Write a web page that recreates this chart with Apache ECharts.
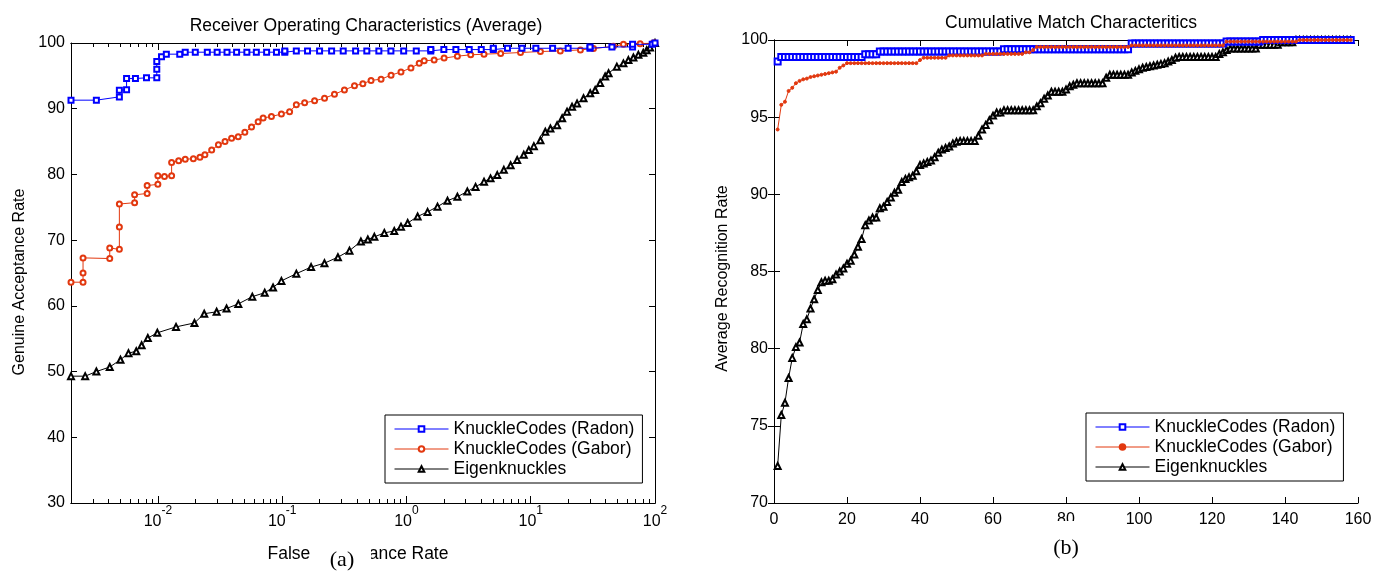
<!DOCTYPE html>
<html>
<head>
<meta charset="utf-8" />
<script src="https://cdn.jsdelivr.net/npm/echarts@6.0.0/dist/echarts.min.js"></script>
<style>
  html, body { margin: 0; padding: 0; background: #fff; }
  #main { width: 1392px; height: 572px; }
</style>
</head>
<body>
<div id="main"></div>
<script>
const FONT = "'Liberation Sans', Arial, sans-serif";
const SERIF = "'Liberation Serif', 'Times New Roman', serif";

const names = ["KnuckleCodes (Radon)", "KnuckleCodes (Gabor)", "Eigenknuckles"];
const colors = ["#0000ff", "#e2380f", "#000000"];

// ROC (a): false acceptance rate (%) -> genuine acceptance rate (%)
const rocRadonFar = [0.002, 0.0032, 0.0049, 0.0049, 0.0056, 0.0056, 0.0066, 0.0081, 0.0098, 0.0098, 0.0098, 0.0107, 0.0117, 0.015,
  0.0166, 0.02, 0.025, 0.03, 0.036, 0.043, 0.052, 0.062, 0.075, 0.09, 0.105, 0.105, 0.13, 0.16, 0.2, 0.25, 0.31, 0.39, 0.48,
  0.6, 0.75, 0.95, 1.2, 1.57, 1.57, 2.0, 2.5, 3.2, 4.0, 5.0, 5.0, 6.5, 8.5, 11, 15, 20, 30, 30, 45, 66, 66, 95, 100];
const rocRadonGar = [91.3, 91.3, 91.8, 92.8, 92.9, 94.6, 94.6, 94.7, 94.7, 96.0, 97.2, 97.9, 98.3, 98.3,
  98.6, 98.6, 98.6, 98.6, 98.6, 98.6, 98.6, 98.6, 98.6, 98.6, 98.6, 98.8, 98.8, 98.8, 98.8, 98.8, 98.8, 98.8, 98.8,
  98.8, 98.8, 98.8, 98.8, 98.8, 99.0, 99.0, 99.0, 99.0, 99.0, 99.0, 99.2, 99.2, 99.2, 99.2, 99.2, 99.2, 99.2, 99.4, 99.4, 99.4, 99.8, 99.8, 100];

const rocGaborFar = [0.002, 0.0025, 0.0025, 0.0025, 0.0041, 0.0041, 0.0049, 0.0049, 0.0049, 0.0065, 0.0065, 0.0082, 0.0082,
  0.01, 0.01, 0.0113, 0.0129, 0.0129, 0.0147, 0.0166, 0.0193, 0.0218, 0.0239, 0.0271, 0.0307, 0.0347, 0.0392, 0.0443,
  0.0501, 0.0567, 0.0641, 0.0703, 0.082, 0.0986, 0.1148, 0.13, 0.1517, 0.1824, 0.2193, 0.2636, 0.317, 0.382, 0.446,
  0.519, 0.625, 0.752, 0.904, 1.087, 1.267, 1.39, 1.671, 2.01, 2.57, 3.29, 4.21, 5.73, 8.28, 11.97, 17.3, 25.1, 32.0,
  46.3, 55.7, 75.9, 96.8, 100];
const rocGaborGar = [63.6, 63.6, 65.0, 67.3, 67.2, 68.8, 68.6, 72.0, 75.5, 75.7, 76.9, 77.1, 78.3,
  78.5, 79.8, 79.7, 79.8, 81.8, 82.1, 82.3, 82.4, 82.6, 83.0, 83.7, 84.5, 85.0, 85.5, 85.75,
  86.4, 87.2, 88.0, 88.6, 88.8, 89.2, 89.55, 90.6, 90.9, 91.2, 91.6, 92.2, 92.85, 93.5, 93.8,
  94.3, 94.5, 95.1, 95.6, 96.2, 96.9, 97.3, 97.4, 97.7, 98.0, 98.2, 98.3, 98.4, 98.55, 98.7, 98.8, 98.95, 99.15,
  99.5, 99.8, 99.9, 100, 100];

const rocEigenFar = [0.002, 0.0026, 0.0032, 0.0041, 0.005, 0.0058, 0.0067, 0.0074, 0.0083, 0.0099, 0.014, 0.0197, 0.0236,
  0.0297, 0.0357, 0.0444, 0.0575, 0.0724, 0.0845, 0.0986, 0.13, 0.171, 0.219, 0.281, 0.348, 0.43, 0.489, 0.552, 0.664,
  0.798, 0.904, 1.023, 1.23, 1.479, 1.778, 2.14, 2.57, 3.09, 3.6, 4.21, 4.75, 5.38, 6.08, 6.89, 7.78, 8.79, 9.65, 10.6,
  11.97, 13.1, 14.4, 16.3, 17.9, 19.6, 21.5, 23.6, 26.6, 30.1, 33.0, 36.2, 39.7, 42.3, 49.3, 55.7, 61.1, 67.0, 73.5,
  80.5, 85.7, 91.2, 100];
const rocEigenGar = [49.3, 49.3, 50.0, 50.7, 51.8, 52.8, 53.1, 54.0, 55.1, 55.9, 56.8, 57.4, 58.8,
  59.1, 59.6, 60.3, 61.4, 62.0, 62.8, 63.8, 64.9, 65.9, 66.5, 67.4, 68.4, 69.8, 70.1, 70.5, 71.1,
  71.4, 72.05, 72.6, 73.6, 74.3, 75.1, 76.0, 76.6, 77.4, 78.1, 78.9, 79.4, 79.9, 80.7, 81.4, 82.2, 83.0, 83.7, 84.3,
  85.2, 86.5, 87.0, 87.5, 88.55, 89.55, 90.3, 90.8, 91.6, 92.35, 92.85, 93.9, 94.9, 95.4, 96.4, 96.9, 97.4, 97.8, 98.2,
  98.5, 98.9, 99.3, 100];

const farMajorTicks = [0.01, 0.1, 1, 10, 100];
const farMinorTicks = [0.003, 0.004, 0.005, 0.006, 0.007, 0.008, 0.009,
  0.02, 0.03, 0.04, 0.05, 0.06, 0.07, 0.08, 0.09,
  0.2, 0.3, 0.4, 0.5, 0.6, 0.7, 0.8, 0.9,
  2, 3, 4, 5, 6, 7, 8, 9,
  20, 30, 40, 50, 60, 70, 80, 90];

// CMC (b): recognition rate (%) for rank 1..158
const cmcRadon = [
  98.6, 98.9, 98.9, 98.9, 98.9, 98.9, 98.9, 98.9, 98.9, 98.9,
  98.9, 98.9, 98.9, 98.9, 98.9, 98.9, 98.9, 98.9, 98.9, 98.9,
  98.9, 98.9, 98.9, 98.9, 99.07, 99.07, 99.07, 99.07, 99.25, 99.25,
  99.25, 99.25, 99.25, 99.25, 99.25, 99.25, 99.25, 99.25, 99.25, 99.25,
  99.25, 99.25, 99.25, 99.25, 99.25, 99.25, 99.25, 99.25, 99.25, 99.25,
  99.25, 99.25, 99.25, 99.25, 99.25, 99.25, 99.25, 99.25, 99.25, 99.25,
  99.25, 99.25, 99.4, 99.4, 99.4, 99.4, 99.4, 99.4, 99.4, 99.4,
  99.4, 99.4, 99.4, 99.4, 99.4, 99.4, 99.4, 99.4, 99.4, 99.4,
  99.4, 99.4, 99.4, 99.4, 99.4, 99.4, 99.4, 99.4, 99.4, 99.4,
  99.4, 99.4, 99.4, 99.4, 99.4, 99.4, 99.4, 99.78, 99.78, 99.78,
  99.78, 99.78, 99.78, 99.78, 99.78, 99.78, 99.78, 99.78, 99.78, 99.78,
  99.78, 99.78, 99.78, 99.78, 99.78, 99.78, 99.78, 99.78, 99.78, 99.78,
  99.78, 99.78, 99.78, 99.9, 99.9, 99.9, 99.9, 99.9, 99.9, 99.9,
  99.9, 99.9, 99.9, 100, 100, 100, 100, 100, 100, 100,
  100, 100, 100, 100, 100, 100, 100, 100, 100, 100,
  100, 100, 100, 100, 100, 100, 100, 100];
const cmcGabor = [
  94.2, 95.8, 96.0, 96.7, 96.9, 97.2, 97.35, 97.45, 97.5, 97.6,
  97.65, 97.7, 97.75, 97.8, 97.85, 97.9, 97.95, 98.2, 98.35, 98.5,
  98.5, 98.5, 98.5, 98.5, 98.5, 98.5, 98.5, 98.5, 98.5, 98.5,
  98.5, 98.5, 98.5, 98.5, 98.5, 98.5, 98.5, 98.5, 98.5, 98.7,
  98.85, 98.85, 98.85, 98.85, 98.85, 98.85, 98.85, 99.0, 99.0, 99.0,
  99.0, 99.0, 99.0, 99.0, 99.0, 99.0, 99.0, 99.1, 99.1, 99.1,
  99.1, 99.1, 99.1, 99.1, 99.1, 99.1, 99.1, 99.1, 99.2, 99.2,
  99.35, 99.55, 99.55, 99.55, 99.55, 99.55, 99.55, 99.55, 99.55, 99.55,
  99.55, 99.55, 99.55, 99.55, 99.55, 99.55, 99.55, 99.55, 99.55, 99.55,
  99.55, 99.55, 99.55, 99.55, 99.55, 99.55, 99.55, 99.65, 99.65, 99.65,
  99.65, 99.65, 99.65, 99.65, 99.65, 99.65, 99.65, 99.65, 99.65, 99.65,
  99.65, 99.65, 99.65, 99.65, 99.65, 99.65, 99.65, 99.65, 99.65, 99.65,
  99.65, 99.65, 99.65, 99.9, 99.9, 99.9, 99.9, 99.9, 99.9, 99.9,
  99.9, 99.9, 99.9, 99.9, 99.9, 99.9, 99.9, 99.9, 99.9, 99.9,
  99.9, 99.9, 99.9, 100, 100, 100, 100, 100, 100, 100,
  100, 100, 100, 100, 100, 100, 100, 100];
const cmcEigen = [
  72.4, 75.7, 76.5, 78.1, 79.4, 80.1, 80.4, 81.6, 81.9, 82.6,
  83.2, 83.8, 84.3, 84.4, 84.4, 84.5, 84.8, 85.0, 85.2, 85.5,
  85.7, 86.1, 86.6, 87.1, 88.0, 88.3, 88.5, 88.5, 89.1, 89.2,
  89.5, 89.8, 90.1, 90.3, 90.8, 91.0, 91.1, 91.2, 91.5, 91.9,
  92.0, 92.1, 92.2, 92.4, 92.7, 92.9, 93.0, 93.1, 93.3, 93.4,
  93.45, 93.45, 93.45, 93.45, 93.45, 93.8, 94.2, 94.5, 94.8, 95.1,
  95.3, 95.3, 95.45, 95.45, 95.45, 95.45, 95.45, 95.45, 95.45, 95.45,
  95.45, 95.7, 95.9, 96.2, 96.4, 96.65, 96.65, 96.65, 96.65, 96.8,
  97.0, 97.1, 97.2, 97.2, 97.2, 97.2, 97.2, 97.2, 97.2, 97.2,
  97.55, 97.75, 97.75, 97.75, 97.75, 97.75, 97.75, 97.9, 98.0, 98.1,
  98.2, 98.25, 98.3, 98.35, 98.4, 98.45, 98.5, 98.6, 98.7, 98.85,
  98.9, 98.9, 98.9, 98.9, 98.9, 98.9, 98.9, 98.9, 98.9, 98.9,
  98.9, 99.1, 99.2, 99.35, 99.45, 99.45, 99.45, 99.45, 99.45, 99.45,
  99.45, 99.45, 99.7, 99.7, 99.7, 99.7, 99.7, 99.7, 99.85, 99.85,
  99.85, 99.85, 100, 100, 100, 100, 100, 100, 100, 100,
  100, 100, 100, 100, 100, 100, 100, 100];

const zip = (xs, ys) => xs.map((x, i) => [x, ys[i]]);
const ranked = (ys) => ys.map((y, i) => [i + 1, y]);

const tickText = { color: "#000", fontFamily: FONT, fontSize: 16 };
const bigText = { color: "#000", fontFamily: FONT, fontSize: 17.5 };
const blackLine = { show: true, lineStyle: { color: "#000", width: 1 } };

function farAxis(position, ticks, len, withLabels) {
  return {
    type: "log",
    logBase: 10,
    gridIndex: 0,
    position: position,
    min: 0.002,
    max: 100,
    axisLine: blackLine,
    axisTick: { inside: true, length: len, customValues: ticks, lineStyle: { color: "#000" } },
    axisLabel: withLabels
      ? {
          customValues: farMajorTicks,
          margin: 2,
          formatter: (v) => "{b|10}{s|" + Math.round(Math.log10(v)) + "}",
          rich: {
            b: { fontSize: 16, fontFamily: FONT, color: "#000", lineHeight: 25, verticalAlign: "bottom" },
            s: { fontSize: 12, fontFamily: FONT, color: "#000", lineHeight: 25, verticalAlign: "top" },
          },
        }
      : { show: false },
    splitLine: { show: false },
    name: withLabels ? "False Acceptance Rate" : "",
    nameLocation: "middle",
    nameGap: 42,
    nameTextStyle: Object.assign({ padding: [0, 10, 0, 0] }, bigText),
  };
}

function valueAxis(grid, position, min, max, interval, withLabels, name, gap, pad) {
  const horizontal = position === "bottom" || position === "top";
  return {
    type: "value",
    gridIndex: grid,
    position: position,
    min: min,
    max: max,
    interval: interval,
    axisLine: blackLine,
    axisTick: { inside: true, length: 6, lineStyle: { color: "#000" } },
    axisLabel: withLabels ? Object.assign({ margin: horizontal ? 9 : 6 }, tickText) : { show: false },
    splitLine: { show: false },
    name: name || "",
    nameLocation: "middle",
    nameGap: gap || 0,
    nameTextStyle: Object.assign({ padding: pad || 0 }, tickText),
  };
}

const legendBase = {
  orient: "vertical",
  selectedMode: false,
  backgroundColor: "#fff",
  borderColor: "#000",
  borderWidth: 1,
  borderRadius: 0,
  padding: [5, 8, 5, 9],
  itemGap: 2,
  itemWidth: 54,
  itemHeight: 7,
  lineStyle: { width: 1 },
  textStyle: { color: "#000", fontFamily: FONT, fontSize: 17.5 },
};

const rocSymbols = ["emptyRect", "emptyCircle", "emptyTriangle"];
const rocSizes = [5, 5, 6];
const rocData = [zip(rocRadonFar, rocRadonGar), zip(rocGaborFar, rocGaborGar), zip(rocEigenFar, rocEigenGar)];
const cmcSymbols = ["emptyRect", "circle", "emptyTriangle"];
const cmcSizes = [6, 3, 6];
const cmcData = [ranked(cmcRadon), ranked(cmcGabor), ranked(cmcEigen)];

const series = [];
names.forEach((n, i) => {
  series.push({
    name: n,
    type: "line",
    xAxisIndex: 0,
    yAxisIndex: 0,
    data: rocData[i],
    symbol: rocSymbols[i],
    symbolSize: rocSizes[i],
    lineStyle: { color: colors[i], width: 1 },
    itemStyle: { color: colors[i], borderColor: colors[i], borderWidth: 1 },
    z: 3 - i,
  });
  series.push({
    name: "CMC " + n,
    type: "line",
    xAxisIndex: 4,
    yAxisIndex: 2,
    data: cmcData[i],
    symbol: cmcSymbols[i],
    symbolSize: cmcSizes[i],
    lineStyle: { color: colors[i], width: 1 },
    itemStyle: { color: colors[i], borderColor: colors[i], borderWidth: 1 },
    z: i === 0 ? 2 : i === 1 ? 3 : 1,
  });
});

const options = {
  animation: false,
  backgroundColor: "#fff",
  title: [
    {
      text: "Receiver Operating Characteristics (Average)",
      left: 361,
      top: 12,
      textAlign: "center",
      textStyle: { color: "#000", fontWeight: "normal", fontFamily: FONT, fontSize: 17.5 },
    },
    {
      text: "Cumulative Match Characteritics",
      left: 1066,
      top: 9,
      textAlign: "center",
      textStyle: { color: "#000", fontWeight: "normal", fontFamily: FONT, fontSize: 17.5 },
    },
  ],
  grid: [
    { left: 71, top: 43, width: 584, height: 460, containLabel: false },
    { left: 774, top: 40, width: 584, height: 463, containLabel: false },
  ],
  xAxis: [
    farAxis("bottom", farMajorTicks, 7, true),
    farAxis("bottom", farMinorTicks, 4, false),
    farAxis("top", farMajorTicks, 7, false),
    farAxis("top", farMinorTicks, 4, false),
    valueAxis(1, "bottom", 0, 160, 20, true),
    valueAxis(1, "top", 0, 160, 20, false),
  ],
  yAxis: [
    valueAxis(0, "left", 30, 100, 10, true, "Genuine Acceptance Rate", 43, [0, 18, 0, 0]),
    valueAxis(0, "right", 30, 100, 10, false),
    valueAxis(1, "left", 70, 100, 5, true, "Average Recognition Rate", 43, [0, 14, 0, 0]),
    valueAxis(1, "right", 70, 100, 5, false),
  ],
  legend: [
    Object.assign({}, legendBase, { left: 385, top: 415, data: names }),
    Object.assign({}, legendBase, {
      left: 1086,
      top: 413,
      data: names.map((n) => "CMC " + n),
      formatter: (n) => n.replace(/^CMC /, ""),
    }),
  ],
  series: series,
  graphic: [
    { type: "rect", z: 100, shape: { x: 311, y: 540, width: 60, height: 32 }, style: { fill: "#fff" } },
    {
      type: "text", z: 101, x: 342, y: 560,
      style: { text: "(a)", font: "22px " + SERIF, fill: "#000", align: "center", verticalAlign: "middle" },
    },
    { type: "rect", z: 100, shape: { x: 1055, y: 521, width: 23, height: 8 }, style: { fill: "#fff" } },
    {
      type: "text", z: 101, x: 1066, y: 548,
      style: { text: "(b)", font: "22px " + SERIF, fill: "#000", align: "center", verticalAlign: "middle" },
    },
  ],
};

const chart = echarts.init(document.getElementById("main"), null, { renderer: "canvas" });
chart.setOption(options);
</script>
</body>
</html>
